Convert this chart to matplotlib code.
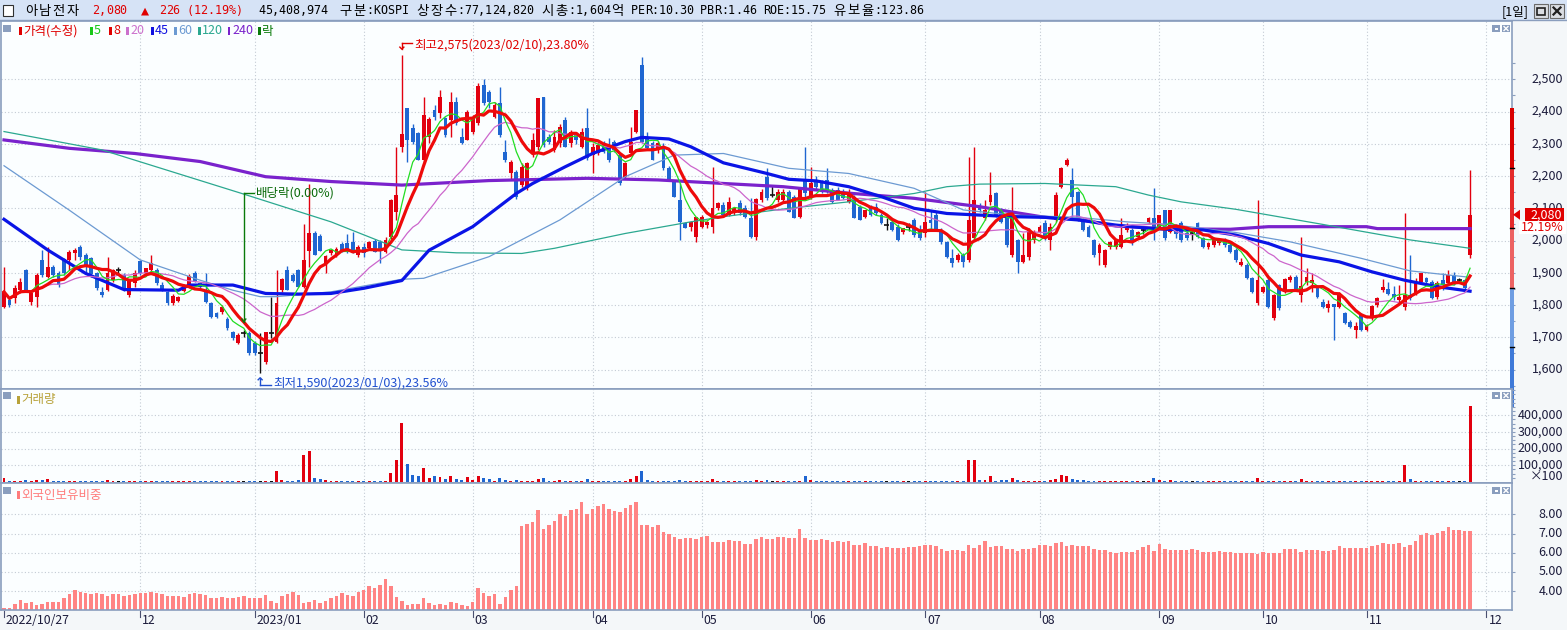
import matplotlib
matplotlib.use("Agg")
import matplotlib.pyplot as plt
import numpy as np
import pandas as pd
from matplotlib.lines import Line2D
from matplotlib.patches import Polygon, Rectangle

plt.rcParams["font.family"] = ["Noto Sans CJK KR", "DejaVu Sans"]
MONO = ["DejaVu Sans Mono", "Noto Sans CJK KR"]

# ── 일봉 데이터 (2022/10/27 ~ 2023/11) ─────────────────────────────────────
opens = [
    1795, 1815, 1821, 1846, 1908, 1810, 1826, 1940, 1888, 1919,
    1898, 1942, 1940, 1960, 1981, 1955, 1945, 1898, 1841, 1846,
    1877, 1908, 1893, 1831, 1867, 1936, 1898, 1910, 1908, 1862,
    1839, 1805, 1813, 1844, 1857, 1898, 1867, 1846, 1805, 1774,
    1779, 1758, 1717, 1681, 1714, 1714, 1681, 1650, 1624, 1712,
    1686, 1846, 1910, 1893, 1910, 1857, 1968, 2022, 2014, 1929,
    1960, 1955, 1988, 1991, 1996, 1955, 1979, 1976, 1998, 1996,
    1965, 2012, 2090, 2291, 2410, 2348, 2333, 2250, 2322, 2405,
    2395, 2379, 2374, 2431, 2322, 2312, 2338, 2364, 2482, 2462,
    2384, 2426, 2275, 2208, 2213, 2172, 2162, 2270, 2291, 2446,
    2322, 2281, 2301, 2374, 2301, 2333, 2291, 2348, 2265, 2270,
    2301, 2291, 2307, 2265, 2198, 2270, 2338, 2544, 2322, 2301,
    2281, 2291, 2224, 2183, 2126, 2053, 2043, 2012, 2043, 2048,
    2043, 2100, 2110, 2080, 2085, 2115, 2100, 2069, 2012, 2126,
    2198, 2141, 2126, 2126, 2152, 2136, 2074, 2188, 2136, 2182,
    2177, 2188, 2152, 2156, 2151, 2120, 2136, 2105, 2074, 2105,
    2105, 2079, 2048, 2058, 2043, 2028, 2043, 2064, 2033, 2022,
    2064, 2079, 2033, 1996, 1945, 1940, 1955, 1940, 2007, 2105,
    2069, 2120, 2146, 2094, 2069, 1955, 2001, 1934, 1950, 2001,
    2028, 2053, 2002, 2064, 2167, 2234, 2188, 2151, 2064, 2043,
    2002, 1960, 1924, 1980, 1981, 1981, 2033, 2033, 2012, 2033,
    2058, 2069, 2043, 2094, 2028, 2048, 2053, 2022, 2022, 2053,
    2007, 1981, 1986, 1991, 2002, 1986, 1970, 1924, 1924, 1883,
    1805, 1841, 1877, 1759, 1862, 1841, 1877, 1888, 1831, 1872,
    1867, 1857, 1810, 1790, 1803, 1795, 1774, 1748, 1722, 1769,
    1722, 1759, 1800, 1846, 1849, 1834, 1815, 1795, 1831, 1836,
    1872, 1883, 1872, 1826, 1877, 1867, 1893, 1877, 1877, 1955,
]
highs = [
    1919, 1826, 1862, 1883, 1913, 1846, 1898, 1970, 1981, 1924,
    1905, 1945, 1970, 1976, 1986, 1960, 1950, 1903, 1857, 1950,
    1913, 1918, 1898, 1880, 1908, 1940, 1905, 1955, 1915, 1872,
    1845, 1833, 1828, 1866, 1895, 1905, 1872, 1898, 1808, 1780,
    1800, 1762, 1720, 1712, 1724, 1718, 1690, 1712, 1717, 1824,
    1910, 1883, 1920, 1898, 1912, 2050, 2174, 2030, 2020, 1955,
    1975, 1980, 1995, 2020, 2027, 1985, 1991, 2000, 2005, 2002,
    2010, 2130, 2291, 2575, 2410, 2360, 2338, 2446, 2384, 2420,
    2467, 2384, 2462, 2446, 2348, 2405, 2390, 2488, 2500, 2467,
    2430, 2477, 2312, 2250, 2219, 2239, 2245, 2333, 2441, 2446,
    2330, 2343, 2360, 2384, 2343, 2338, 2348, 2410, 2301, 2305,
    2310, 2317, 2312, 2270, 2245, 2353, 2405, 2570, 2338, 2310,
    2310, 2301, 2230, 2188, 2177, 2058, 2060, 2074, 2080, 2060,
    2229, 2120, 2120, 2135, 2105, 2126, 2110, 2131, 2131, 2160,
    2224, 2172, 2160, 2160, 2157, 2140, 2165, 2291, 2229, 2200,
    2188, 2224, 2162, 2167, 2160, 2160, 2140, 2110, 2095, 2110,
    2115, 2084, 2069, 2069, 2050, 2040, 2053, 2070, 2048, 2152,
    2095, 2090, 2040, 2000, 1975, 1960, 1960, 2260, 2291, 2115,
    2126, 2213, 2151, 2100, 2074, 2167, 2005, 2022, 2040, 2033,
    2048, 2064, 2053, 2151, 2228, 2255, 2224, 2155, 2070, 2048,
    2005, 1991, 1975, 2000, 2005, 2069, 2053, 2040, 2030, 2040,
    2074, 2162, 2080, 2095, 2095, 2052, 2060, 2030, 2033, 2058,
    2012, 1995, 2012, 2005, 2007, 1996, 1976, 1945, 1930, 1888,
    2126, 1860, 1885, 1835, 1866, 1885, 1893, 1893, 2012, 1914,
    1900, 1860, 1818, 1815, 1803, 1841, 1780, 1754, 1748, 1774,
    1740, 1800, 1826, 1880, 1870, 1860, 1862, 2084, 1955, 1883,
    1898, 1888, 1877, 1875, 1898, 1908, 1903, 1885, 1882, 2220,
]
lows = [
    1790, 1795, 1805, 1836, 1844, 1800, 1795, 1888, 1883, 1888,
    1855, 1893, 1908, 1940, 1940, 1898, 1888, 1846, 1826, 1844,
    1870, 1893, 1844, 1826, 1857, 1893, 1893, 1898, 1862, 1844,
    1800, 1800, 1808, 1840, 1852, 1870, 1852, 1805, 1760, 1760,
    1772, 1722, 1692, 1678, 1700, 1645, 1645, 1590, 1618, 1698,
    1681, 1841, 1846, 1870, 1857, 1852, 1919, 1955, 1968, 1898,
    1955, 1950, 1965, 1960, 1960, 1950, 1950, 1970, 1965, 1931,
    1960, 2005, 2064, 2276, 2245, 2300, 2250, 2245, 2301, 2374,
    2379, 2322, 2322, 2358, 2299, 2312, 2330, 2358, 2420, 2410,
    2379, 2322, 2245, 2188, 2128, 2167, 2157, 2260, 2280, 2290,
    2300, 2276, 2290, 2290, 2290, 2300, 2286, 2250, 2208, 2265,
    2270, 2245, 2276, 2172, 2193, 2265, 2333, 2301, 2285, 2250,
    2270, 2220, 2188, 2136, 2002, 2038, 2030, 1996, 2038, 2040,
    2022, 2095, 2075, 2075, 2080, 2080, 2070, 2007, 2002, 2120,
    2126, 2136, 2120, 2115, 2090, 2069, 2070, 2130, 2130, 2160,
    2146, 2146, 2115, 2125, 2130, 2115, 2069, 2064, 2069, 2075,
    2080, 2050, 2033, 2030, 2000, 2020, 2030, 2012, 2002, 2012,
    2033, 2030, 1990, 1945, 1919, 1935, 1919, 1935, 2002, 2090,
    2064, 2110, 2074, 2053, 1981, 1950, 1898, 1929, 1940, 1991,
    2022, 2002, 1971, 2058, 2162, 2230, 2064, 2060, 2030, 2010,
    1950, 1924, 1919, 1975, 1975, 1976, 2028, 1986, 2005, 2020,
    2050, 2002, 2040, 2002, 2022, 2007, 1996, 2002, 2002, 2007,
    1976, 1975, 1980, 1985, 1981, 1960, 1935, 1920, 1880, 1836,
    1800, 1838, 1790, 1755, 1785, 1836, 1872, 1845, 1810, 1862,
    1841, 1822, 1790, 1779, 1691, 1790, 1740, 1728, 1697, 1718,
    1718, 1753, 1795, 1841, 1830, 1815, 1810, 1784, 1815, 1830,
    1866, 1866, 1818, 1820, 1846, 1862, 1862, 1870, 1842, 1945,
]
closes = [
    1841, 1800, 1852, 1872, 1846, 1838, 1893, 1893, 1919, 1893,
    1862, 1898, 1965, 1972, 1950, 1919, 1895, 1852, 1831, 1898,
    1908, 1908, 1846, 1877, 1898, 1898, 1916, 1931, 1867, 1846,
    1805, 1828, 1826, 1862, 1890, 1875, 1855, 1810, 1764, 1764,
    1795, 1728, 1697, 1707, 1714, 1650, 1650, 1650, 1717, 1712,
    1805, 1880, 1846, 1876, 1857, 1940, 2024, 1955, 1968, 1952,
    1971, 1973, 1967, 1968, 1965, 1979, 1960, 1994, 1965, 1967,
    2002, 2126, 2141, 2330, 2312, 2307, 2250, 2389, 2376, 2384,
    2446, 2327, 2431, 2364, 2301, 2400, 2384, 2479, 2426, 2431,
    2420, 2327, 2250, 2245, 2136, 2229, 2239, 2312, 2441, 2296,
    2307, 2322, 2353, 2291, 2338, 2312, 2338, 2255, 2291, 2296,
    2275, 2250, 2281, 2177, 2239, 2307, 2405, 2307, 2286, 2250,
    2301, 2224, 2188, 2136, 2058, 2038, 2058, 2074, 2074, 2058,
    2100, 2115, 2079, 2120, 2100, 2085, 2074, 2012, 2130, 2152,
    2131, 2141, 2152, 2150, 2090, 2069, 2162, 2146, 2177, 2167,
    2152, 2152, 2120, 2126, 2131, 2141, 2069, 2064, 2094, 2079,
    2085, 2053, 2048, 2033, 2002, 2038, 2043, 2017, 2007, 2058,
    2053, 2033, 1996, 1950, 1929, 1955, 1934, 2064, 2125, 2094,
    2094, 2141, 2079, 2058, 1986, 2084, 1934, 1955, 2033, 2028,
    2043, 2007, 2043, 2141, 2224, 2250, 2136, 2064, 2033, 2012,
    1955, 1986, 1971, 1995, 2001, 2017, 2048, 1991, 2027, 2033,
    2069, 2033, 2079, 2007, 2094, 2020, 2002, 2007, 2022, 2012,
    1981, 1991, 2007, 2002, 1986, 1965, 1940, 1934, 1883, 1841,
    1877, 1855, 1795, 1831, 1790, 1880, 1888, 1846, 1859, 1888,
    1877, 1826, 1795, 1803, 1795, 1836, 1743, 1733, 1735, 1722,
    1738, 1797, 1821, 1857, 1834, 1824, 1826, 1831, 1821, 1872,
    1898, 1872, 1821, 1867, 1862, 1893, 1867, 1877, 1854, 2080,
]
# 거래량 (단위: 1,000 x 100주)
volumes_k = [
    24, 5, 5, 5, 12, 5, 12, 12, 18, 5,
    5, 5, 5, 5, 5, 5, 5, 5, 5, 12,
    5, 5, 5, 5, 5, 5, 5, 5, 5, 5,
    5, 5, 5, 5, 5, 5, 5, 5, 5, 5,
    5, 5, 5, 5, 5, 5, 5, 5, 5, 8,
    66, 12, 6, 6, 12, 162, 186, 22, 18, 12,
    6, 6, 6, 8, 8, 6, 6, 5, 5, 6,
    6, 54, 132, 354, 108, 42, 38, 84, 24, 36,
    30, 18, 36, 18, 12, 30, 12, 36, 24, 18,
    6, 24, 12, 6, 12, 6, 6, 6, 18, 24,
    6, 6, 12, 6, 6, 6, 6, 18, 6, 6,
    6, 6, 6, 6, 6, 18, 36, 66, 12, 6,
    6, 6, 6, 6, 10, 6, 6, 6, 6, 6,
    18, 6, 6, 6, 6, 6, 6, 6, 12, 6,
    10, 6, 6, 6, 6, 6, 6, 36, 12, 6,
    6, 6, 6, 6, 6, 6, 6, 6, 6, 6,
    6, 6, 6, 6, 6, 6, 6, 6, 6, 6,
    6, 6, 6, 6, 6, 6, 6, 132, 132, 12,
    12, 36, 6, 12, 12, 24, 12, 6, 6, 6,
    6, 6, 12, 18, 42, 36, 18, 12, 12, 6,
    6, 6, 6, 6, 6, 6, 6, 6, 6, 6,
    6, 24, 12, 6, 10, 6, 6, 6, 6, 6,
    6, 6, 6, 6, 6, 6, 6, 6, 6, 6,
    24, 6, 6, 6, 6, 6, 6, 6, 18, 6,
    6, 6, 6, 6, 6, 6, 6, 6, 6, 6,
    6, 6, 6, 6, 6, 6, 6, 102, 18, 6,
    6, 6, 6, 6, 6, 6, 6, 6, 6, 454,
]
# 외국인 보유비중 (%)
foreign_pct = [
    3.14, 3.14, 3.33, 3.54, 3.36, 3.42, 3.28, 3.35, 3.43, 3.43,
    3.43, 3.62, 3.85, 4.06, 3.97, 3.90, 3.87, 3.90, 3.85, 3.74,
    3.83, 3.83, 3.73, 3.80, 3.85, 3.90, 3.90, 3.95, 3.90, 3.83,
    3.74, 3.74, 3.74, 3.69, 3.83, 3.90, 3.83, 3.80, 3.66, 3.66,
    3.69, 3.66, 3.66, 3.69, 3.74, 3.66, 3.66, 3.66, 3.80, 3.48,
    3.38, 3.74, 3.83, 3.97, 3.80, 3.38, 3.45, 3.54, 3.38, 3.48,
    3.62, 3.76, 3.90, 3.80, 3.74, 3.97, 4.07, 4.27, 4.18, 4.32,
    4.63, 4.27, 3.69, 3.48, 3.28, 3.33, 3.33, 3.62, 3.38, 3.28,
    3.35, 3.28, 3.43, 3.38, 3.28, 3.22, 3.45, 4.16, 3.90, 3.74,
    3.85, 3.33, 3.69, 4.06, 4.27, 7.39, 7.48, 7.60, 8.23, 7.22,
    7.44, 7.65, 8.01, 7.91, 8.23, 8.28, 8.64, 8.01, 8.28, 8.43,
    8.54, 8.28, 8.17, 8.12, 8.33, 8.48, 8.64, 7.44, 7.44, 7.34,
    7.44, 7.10, 6.97, 6.82, 6.71, 6.77, 6.77, 6.71, 6.82, 6.87,
    6.56, 6.56, 6.56, 6.64, 6.61, 6.61, 6.45, 6.45, 6.71, 6.82,
    6.71, 6.71, 6.82, 6.82, 6.77, 6.77, 7.23, 6.77, 6.66, 6.66,
    6.71, 6.66, 6.56, 6.61, 6.56, 6.61, 6.40, 6.40, 6.50, 6.35,
    6.35, 6.24, 6.30, 6.24, 6.24, 6.24, 6.30, 6.30, 6.35, 6.40,
    6.40, 6.35, 6.19, 6.09, 6.14, 6.14, 6.09, 6.40, 6.24, 6.40,
    6.61, 6.30, 6.35, 6.35, 6.19, 6.19, 6.09, 6.19, 6.19, 6.24,
    6.40, 6.40, 6.35, 6.50, 6.56, 6.35, 6.40, 6.35, 6.35, 6.35,
    6.19, 6.14, 6.14, 6.04, 5.98, 6.04, 6.04, 6.04, 6.14, 6.30,
    6.40, 6.09, 6.45, 6.19, 6.14, 6.14, 6.14, 6.14, 6.19, 6.14,
    6.04, 6.04, 6.04, 6.09, 6.04, 6.04, 5.98, 5.98, 5.98, 5.98,
    5.93, 6.04, 5.98, 5.98, 5.98, 6.19, 6.19, 6.19, 6.04, 6.14,
    6.14, 6.14, 6.09, 6.09, 6.14, 6.35, 6.24, 6.24, 6.24, 6.24,
    6.24, 6.35, 6.40, 6.50, 6.45, 6.45, 6.50, 6.30, 6.40, 6.61,
    6.90, 7.03, 6.92, 7.03, 7.13, 7.34, 7.18, 7.18, 7.13, 7.13,
]

# 장기 이동평균 (차트에서 읽은 값: 봉 번호, 가격)
ma45_idx = [0, 8, 15, 22, 32, 34, 42, 48, 54, 60, 66, 73, 78, 86, 94, 97, 103, 108,
            114, 117, 122, 126, 132, 140, 144, 149, 155, 161, 167, 173, 179, 185,
            191, 197, 204, 210, 216, 220, 226, 232, 238, 245, 251, 257, 263, 269]
ma45_val = [2066, 1971, 1898, 1848, 1846, 1862, 1862, 1836, 1834, 1836, 1852, 1876,
            1970, 2043, 2146, 2177, 2229, 2270, 2307, 2320, 2315, 2291, 2241, 2208,
            2190, 2185, 2167, 2136, 2100, 2084, 2079, 2074, 2072, 2064, 2048, 2038,
            2033, 2033, 2017, 1991, 1955, 1934, 1903, 1877, 1857, 1843]
ma60_idx = [0, 12, 25, 36, 42, 47, 50, 60, 73, 77, 89, 102, 114, 123, 132, 144,
            155, 167, 176, 185, 197, 206, 214, 226, 236, 249, 258, 269]
ma60_val = [2232, 2094, 1940, 1877, 1846, 1826, 1826, 1841, 1880, 1883, 1950, 2064,
            2198, 2265, 2270, 2224, 2208, 2162, 2095, 2079, 2072, 2058, 2050, 2025,
            1996, 1945, 1906, 1886]
ma120_idx = [0, 18, 44, 60, 73, 83, 95, 101, 114, 126, 132, 144, 155, 167, 173,
             179, 191, 204, 210, 216, 226, 242, 258, 269]
ma120_val = [2338, 2281, 2144, 2058, 1971, 1962, 1960, 1976, 2022, 2058, 2074, 2100,
             2120, 2146, 2167, 2175, 2177, 2167, 2141, 2120, 2097, 2050, 2002, 1976]
ma240_idx = [0, 12, 24, 36, 48, 60, 73, 89, 107, 120, 132, 143, 155, 167, 179, 191,
             197, 204, 214, 225, 232, 250, 252, 269]
ma240_val = [2312, 2286, 2270, 2245, 2198, 2183, 2172, 2186, 2193, 2188, 2177, 2167,
             2147, 2131, 2105, 2072, 2066, 2045, 2036, 2035, 2043, 2043, 2037, 2037]

month_idx = [0, 25, 46, 66, 86, 108, 128, 148, 169, 190, 212, 231, 250, 272]
month_labels = ["2022/10/27", "12", "2023/01", "02", "03", "04", "05", "06",
                "07", "08", "09", "10", "11", "12"]

price_ticks = list(range(1600, 2501, 100))
vol_ticks = [100, 200, 300, 400]
foreign_ticks = [4, 5, 6, 7, 8]
limit_ratios = [1.3, 1.2, 1.1, 1.0, 0.9, 0.8]
ex_div_idx = 44

# ── 레이아웃 (픽셀) ─────────────────────────────────────────────────────────
W, H = 1567, 630
PL, PR = 1, 1512
X0, STEP = 4, 5.45
XLIM = ((PL - X0) / STEP, (PR - X0) / STEP)

RED, BLUE, BLACK = "#E2000F", "#1F66D1", "#111111"
BORDER = "#8A9EBE"
GRID = "#C3CBD4"
PANEL_BG = "#FBFEFF"
AXIS_TXT = "#1C1C3C"

fig = plt.figure(figsize=(W / 100, H / 100), dpi=100, facecolor="#F4F7F9")


def fx(x):
    return x / W


def fy(y):
    return 1 - y / H


def px_rect(x0, y0, x1, y1, **kw):
    fig.add_artist(Rectangle((fx(x0), fy(y1)), (x1 - x0) / W, (y1 - y0) / H,
                             transform=fig.transFigure, **kw))


def px_line(xs, ys, **kw):
    fig.add_artist(Line2D([fx(x) for x in xs], [fy(y) for y in ys],
                          transform=fig.transFigure, **kw))


def px_text(x, y, s, **kw):
    kw.setdefault("va", "center")
    fig.text(fx(x), fy(y), s, **kw)


def mono_text(x, y, s, color, unit=6.95, size=8.5, wide_size=9.6):
    # 고정폭 글꼴처럼 한 글자씩 칸에 맞춰 배치 (한글/기호는 두 칸)
    cur = x
    for ch in s:
        wide = ord(ch) >= 0x2500
        w = 2 if wide else 1
        if ch != " ":
            px_text(cur + w * unit / 2, y, ch, ha="center",
                    fontsize=wide_size if wide else size, color=color, family=MONO)
        cur += w * unit


def add_panel(y0, y1):
    ax = fig.add_axes([fx(PL), fy(y1), (PR - PL) / W, (y1 - y0) / H])
    ax.set_facecolor(PANEL_BG)
    for sp in ax.spines.values():
        sp.set_color(BORDER)
        sp.set_linewidth(1.2)
    ax.set_xlim(*XLIM)
    ax.set_xticks([])
    ax.tick_params(axis="y", which="both", left=False, labelleft=False,
                   right=True, labelright=False, direction="out", color=BORDER)
    ax.tick_params(axis="y", which="major", length=2.5, width=0.8)
    ax.tick_params(axis="y", which="minor", length=1.8, width=0.8)
    ax.vlines(month_idx[1:], 0, 1, transform=ax.get_xaxis_transform(),
              colors=GRID, lw=0.8, linestyles=(0, (1, 2)), zorder=0)
    return ax


def right_labels(ax, ticks, labels, size=9):
    tr = ax.get_yaxis_transform()
    for t, lab in zip(ticks, labels):
        ax.text((1563 - PL) / (PR - PL), t, lab, transform=tr, ha="right",
                va="center", fontsize=size, color=AXIS_TXT, clip_on=False)


def data_py(ax, value):
    return H - ax.transData.transform((0, value))[1]


def data_px(ax, i):
    return ax.transData.transform((i, 0))[0]


def panel_icons(y):
    px_rect(3, y, 11, y + 7, facecolor=BORDER, edgecolor="none")
    px_rect(1492, y, 1500, y + 7, facecolor=BORDER, edgecolor="none")
    px_rect(1494.5, y + 2.5, 1497.5, y + 4.5, facecolor="white", edgecolor="none")
    px_rect(1502, y, 1510, y + 7, facecolor=BORDER, edgecolor="none")
    px_line([1504, 1508], [y + 1.5, y + 5.5], color="white", lw=1)
    px_line([1504, 1508], [y + 5.5, y + 1.5], color="white", lw=1)


o = np.array(opens, float)
h = np.array(highs, float)
lo = np.array(lows, float)
c = np.array(closes, float)
idx = np.arange(len(c))
colors = np.where(c > o, RED, np.where(c < o, BLUE, BLACK))

# ── 가격 패널 ────────────────────────────────────────────────────────────────
ax = add_panel(21, 389)
ax.set_ylim(1539.7, 2680.8)
ax.set_yticks(price_ticks)
ax.set_yticks(list(range(1550, 2551, 50)), minor=True)
ax.grid(axis="y", which="major", color=GRID, lw=0.8, linestyle=(0, (1, 2)))
ax.set_axisbelow(True)

ax.vlines(idx, lo, h, colors=colors, lw=1, zorder=2)
body = ~(c == o)
bottom = np.minimum(o, c)
height = np.maximum(np.abs(c - o), 3)
ax.bar(idx[body], height[body], bottom=bottom[body], width=0.7,
       color=colors[body], lw=0, zorder=2)
ax.hlines(c[~body], idx[~body] - 0.45, idx[~body] + 0.45, colors=BLACK, lw=1.2, zorder=2)

s = pd.Series(c)
ma5 = s.rolling(5, min_periods=1).mean()
ma8 = s.rolling(8, min_periods=1).mean()
ma20 = s.rolling(20, min_periods=1).mean()
ax.plot(ma240_idx, ma240_val, color="#7A22CC", lw=2.3, zorder=3)
ax.plot(ma120_idx, ma120_val, color="#2BA890", lw=0.9, zorder=3)
ax.plot(ma60_idx, ma60_val, color="#6C9AD2", lw=0.9, zorder=3)
ax.plot(ma45_idx, ma45_val, color="#0A14E6", lw=2.3, zorder=3)
ax.plot(idx, ma20, color="#CC66CC", lw=0.9, zorder=3)
ax.plot(idx, ma5, color="#22DD22", lw=0.9, zorder=3)
ax.plot(idx, ma8, color="#EE0A0A", lw=2.3, zorder=4)

right_labels(ax, price_ticks, [f"{t:,}" for t in price_ticks])

# 상하한가 구간 막대 (전일 종가 기준)
prev_close = c[-2]
band_cols = ["#D80000", "#E42A2A", "#EC6262", "#6E9DE2", "#3E79D8"]
levels = [prev_close * r for r in limit_ratios]
bt = ax.get_yaxis_transform()
for top, bot, col in zip(levels[:-1], levels[1:], band_cols):
    ax.add_patch(Rectangle((0.9985, bot), 0.0025, top - bot, transform=bt,
                           facecolor=col, edgecolor="none", clip_on=False, zorder=6))
for lv in levels[1:-1]:
    ax.plot([0.9985, 1.001], [lv, lv], transform=bt, color="black", lw=1,
            clip_on=False, zorder=7)

# 현재가 표시
last = c[-1]
chg = last - prev_close
pct = chg / prev_close * 100
py = data_py(ax, last)
px_rect(1525, py - 6.5, 1564, py + 6.5, facecolor="#E00000", edgecolor="none", zorder=5)
fig.add_artist(Polygon([(fx(1513), fy(py)), (fx(1520), fy(py - 5)), (fx(1520), fy(py + 5))],
                       closed=True, transform=fig.transFigure, facecolor="#E00000",
                       edgecolor="none", zorder=5))
px_text(1562, py + 0.5, f"{last:,.0f}", ha="right", fontsize=9, color="white", zorder=6)
px_rect(1519, py + 6.5, 1566, py + 19, facecolor="white", edgecolor="none", zorder=5)
px_text(1564, py + 13, f"{pct:.2f}%", ha="right", fontsize=9, color="#E00000", zorder=6)

# 최고 / 최저 / 배당락 표시
hi_i = int(np.argmax(h))
lo_i = int(np.argmin(lo))
hx, hy = data_px(ax, hi_i), data_py(ax, h[hi_i])
px_line([hx, hx + 10], [hy - 12, hy - 12], color="#E00000", lw=1)
px_line([hx, hx], [hy - 12, hy - 6], color="#E00000", lw=1)
px_line([hx - 2, hx, hx + 2], [hy - 8, hy - 6, hy - 8], color="#E00000", lw=1)
px_text(hx + 12, hy - 10, f"최고{h[hi_i]:,.0f}(2023/02/10),{(h[hi_i] - last) / last * 100:.2f}%",
        fontsize=9, color="#E00000")

lx, ly = data_px(ax, lo_i), data_py(ax, lo[lo_i])
px_line([lx, lx], [ly + 5, ly + 12], color="#1F4FD0", lw=1)
px_line([lx, lx + 11], [ly + 12, ly + 12], color="#1F4FD0", lw=1)
px_line([lx - 2, lx, lx + 2], [ly + 7, ly + 5, ly + 7], color="#1F4FD0", lw=1)
px_text(lx + 13, ly + 10, f"최저{lo[lo_i]:,.0f}(2023/01/03),{(last - lo[lo_i]) / last * 100:.2f}%",
        fontsize=9, color="#1F4FD0")

dx = data_px(ax, ex_div_idx)
d_top = data_py(ax, 2147)
d_bot = data_py(ax, ma8[ex_div_idx])
px_line([dx, dx], [d_top, d_bot], color="#0A7A0A", lw=1)
px_line([dx, dx + 10], [d_top, d_top], color="#0A7A0A", lw=1)
px_line([dx - 2, dx, dx + 2], [d_bot - 3, d_bot, d_bot - 3], color="#0A7A0A", lw=1)
px_text(dx + 12, d_top, "배당락(0.00%)", fontsize=9, color="#0A6A0A")

# ── 거래량 패널 ──────────────────────────────────────────────────────────────
axv = add_panel(389, 483)
axv.set_ylim(-6, 557)
axv.set_yticks(vol_ticks)
axv.set_yticks(list(range(25, 551, 25)), minor=True)
axv.grid(axis="y", which="major", color=GRID, lw=0.8, linestyle=(0, (1, 2)))
axv.set_axisbelow(True)
axv.bar(idx, volumes_k, width=0.55, color=colors, lw=0, zorder=2)
right_labels(axv, vol_ticks, [f"{t * 1000:,}" for t in vol_ticks])
px_text(1563, 476, "×100", ha="right", fontsize=9, color=AXIS_TXT)

# ── 외국인 보유비중 패널 ─────────────────────────────────────────────────────
axf = add_panel(483, 610)
axf.set_ylim(3.02, 9.63)
axf.set_yticks(foreign_ticks)
axf.grid(axis="y", which="major", color=GRID, lw=0.8, linestyle=(0, (1, 2)))
axf.set_axisbelow(True)
axf.bar(idx, foreign_pct, width=0.64, color="#FF8484", lw=0, zorder=2)
right_labels(axf, foreign_ticks, [f"{t:.2f}" for t in foreign_ticks])

# 월 눈금과 라벨
for mi, lab in zip(month_idx, month_labels):
    mx = data_px(axf, mi)
    px_line([mx, mx], [611, 617], color="#4A5070", lw=0.8)
    px_text(mx + 2, 621, lab, fontsize=8.8, color=AXIS_TXT, ha="left")

# ── 상단 타이틀 바 ───────────────────────────────────────────────────────────
px_rect(0, 0, W, 20, facecolor="#D6E3F6", edgecolor="none")
px_line([0, W], [20, 20], color=BORDER, lw=1)
px_rect(3, 5, 13, 16, facecolor="white", edgecolor="#303030", lw=0.8)
header = [
    (24, "아남전자", "black"),
    (92, f"{last:,.0f}", "#E00000"),
    (138, f"▲ {chg:.0f} ({pct:.2f}%)", "#E00000"),
    (258, "45,408,974", "black"),
    (339, "구분:KOSPI 상장수:77,124,820 시총:1,604억 PER:10.30 PBR:1.46 "
          "ROE:15.75 유보율:123.86", "black"),
]
for x, txt, col in header:
    mono_text(x, 11, txt, col)
px_text(1502, 12, "[1일]", fontsize=9, color="black")
for bx in (1534, 1550):
    px_rect(bx, 4, bx + 14, 18, facecolor="#DADDE2", edgecolor="#6A6A6A", lw=0.8)
px_rect(1537, 7.5, 1545, 14.5, facecolor="none", edgecolor="#202020", lw=1.2)
px_line([1553.5, 1560.5], [7.5, 14.5], color="#202020", lw=1.6)
px_line([1553.5, 1560.5], [14.5, 7.5], color="#202020", lw=1.6)

# ── 범례 ────────────────────────────────────────────────────────────────────
panel_icons(25)
panel_icons(392)
panel_icons(487)
legend = [
    (19, "가격(수정)", "#E00000"),
    (90, "5", "#18C818"),
    (109, "8", "#E00000"),
    (126, "20", "#CC70CC"),
    (151, "45", "#1010E0"),
    (174, "60", "#6C9AD2"),
    (198, "120", "#2BA890"),
    (228, "240", "#7A22CC"),
    (258, "락", "#0A7A0A"),
]
for x, lab, col in legend:
    px_rect(x, 27, x + 2.5, 35, facecolor=col, edgecolor="none")
    px_text(x + 4, 31, lab, fontsize=9, color=col)
px_rect(17, 396, 19.5, 404, facecolor="#B8A23A", edgecolor="none")
px_text(21, 400, "거래량", fontsize=9, color="#B8A23A")
px_rect(17, 491, 19.5, 499, facecolor="#FF7C7C", edgecolor="none")
px_text(21, 495, "외국인보유비중", fontsize=9, color="#FF7C7C")

fig.savefig("out.png", dpi=100, facecolor=fig.get_facecolor())
